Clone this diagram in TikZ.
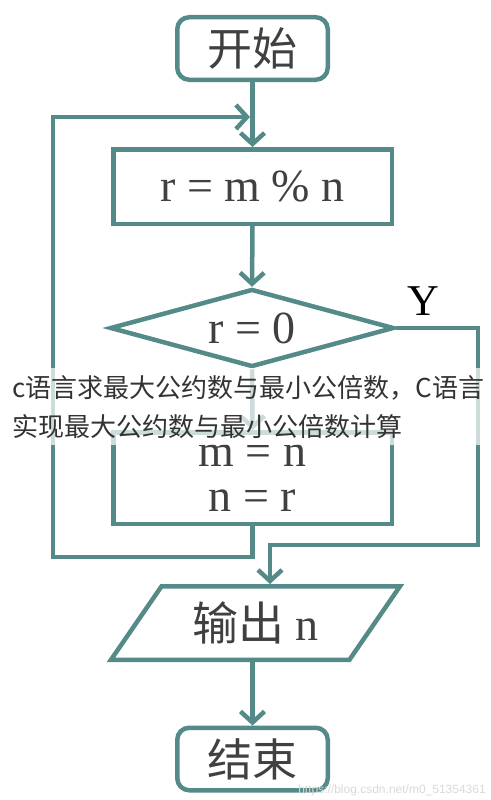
\documentclass[tikz,border=0pt]{standalone}
\usepackage{fontspec}
\setmainfont{Liberation Serif}
\newfontfamily\cjk{Noto Sans CJK SC}
\newfontfamily\wmfont{Liberation Sans}
\usetikzlibrary{shapes.geometric,arrows.meta}
\definecolor{flowline}{RGB}{84,138,136}
\definecolor{flowtext}{RGB}{64,64,64}

\begin{document}
\begin{tikzpicture}[x=1pt,y=-1pt,line width=4.5pt,
		>={Straight Barb[length=11pt,width=24pt]},
		term/.style={draw=flowline, rounded corners=12pt, minimum width=150.5pt, minimum height=62.5pt, inner sep=0pt, text=flowtext, font=\cjk\fontsize{45}{45}\selectfont},
		proc/.style={draw=flowline, rectangle, minimum width=278.5pt, inner sep=0pt, text=flowtext, align=center, font=\fontsize{46}{45}\selectfont},
		decide/.style={draw=flowline, diamond, aspect=3.6, minimum width=284pt, minimum height=78pt, inner sep=0pt, text=flowtext, font=\fontsize{46}{45}\selectfont},
		io/.style={draw=flowline, trapezium, trapezium left angle=40, trapezium right angle=140, trapezium stretches body, minimum width=289pt, minimum height=73.5pt, inner sep=0pt, text=flowtext, font=\fontsize{46}{45}\selectfont},
		caption/.style={anchor=west, inner sep=0pt, text=black!80, font=\cjk\fontsize{26}{26}\selectfont}]

		\useasboundingbox (0,0) rectangle (490,800);

		\node[term] (start) at (252.5,48.5) {开始};
		\node[proc, minimum height=74.5pt] (calc) at (252.5,186.5) {r = m \% n};
		\node[decide] (check) at (252,328) {r = 0};
		\node[proc, minimum height=91.5pt] (assign) at (252.5,478) {m = n\\n = r};
		\node[io] (out) at (255.5,623) {{\cjk 输出} n};
		\node[term] (stop) at (252.5,759) {结束};

		\node[text=black, font=\fontsize{44}{44}\selectfont] (yes) at (423,301) {Y};

		\coordinate (yturn) at (478,545);
		\coordinate (loopturn) at (53,557);
		\coordinate (loopin) at (250,117);

		\draw[flowline,->] (start.south) -- (calc.north);
		\draw[flowline,->] (calc.south) -- (check.north);
		\draw[flowline,->] (check.south) -- (assign.north);
		\draw[flowline,->] (check.east) -| (yturn) -| ([xshift=14.5pt]out.north); %Y
		\draw[flowline,->] (assign.south) |- (loopturn) |- (loopin); %vuelta
		\draw[flowline,->] (out.south -| stop.north) -- (stop.north);

		\fill[white, opacity=0.7] (0,368) rectangle (490,445);
		\node[caption] (cap1) at (10,388) {c语言求最大公约数与最小公倍数，C语言};
		\node[caption] (cap2) at (10,427) {实现最大公约数与最小公倍数计算};

		\node[anchor=east, inner sep=0pt, text=black!15, font=\wmfont\fontsize{12}{12}\selectfont] (mark) at (488,790) {https://blog.csdn.net/m0\_51354361};

	\end{tikzpicture}
\end{document}
